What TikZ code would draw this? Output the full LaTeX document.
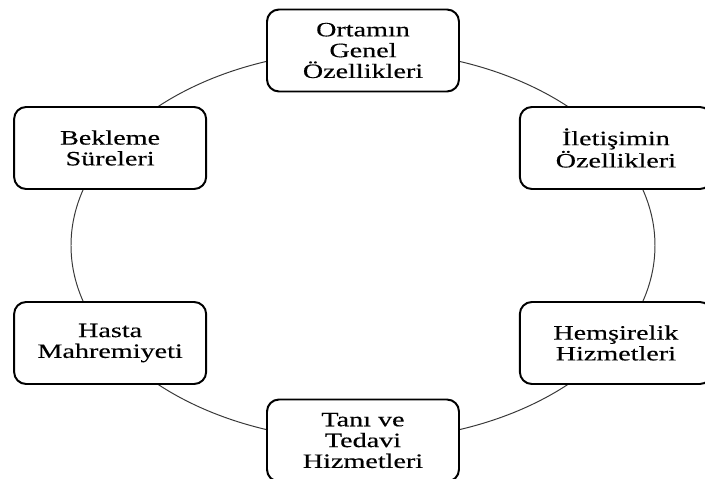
\documentclass[tikz,border=0pt]{standalone}
\usepackage{fontspec}
\setmainfont{Liberation Serif}
\newfontfamily\boxfont[FakeStretch=1.38, FakeBold=0.3]{Liberation Serif}
\usetikzlibrary{positioning}
\definecolor{ringgrey}{rgb}{0.22, 0.22, 0.22}

\begin{document}
\begin{tikzpicture}[
        topic/.style={draw, rounded corners=0.3cm, line width=1.4pt, fill=white, align=center,
            minimum width=4.8cm, minimum height=2.05cm, inner sep=2pt,
            font=\boxfont\fontsize{14.5}{14.8}\selectfont}]
        \useasboundingbox (-9.075,-5.8375) rectangle (8.55,6.1375);

        \coordinate (C) at (0,0);
        \draw [color=ringgrey, line width=0.7pt] (C) ellipse [x radius=7.3cm, y radius=4.875cm];

        \node[topic] (T1) at (90:7.3cm and 4.875cm) {Ortamın\\Genel\\Özellikleri};
        \node[topic] (T2) at (30:7.3cm and 4.875cm) {İletişimin\\Özellikleri};
        \node[topic] (T3) at (330:7.3cm and 4.875cm) {Hemşirelik\\Hizmetleri};
        \node[topic] (T4) at (270:7.3cm and 4.875cm) {Tanı ve\\Tedavi\\Hizmetleri};
        \node[topic] (T5) at (210:7.3cm and 4.875cm) {Hasta\\Mahremiyeti};
        \node[topic] (T6) at (150:7.3cm and 4.875cm) {Bekleme\\Süreleri};
\end{tikzpicture}
\end{document}
